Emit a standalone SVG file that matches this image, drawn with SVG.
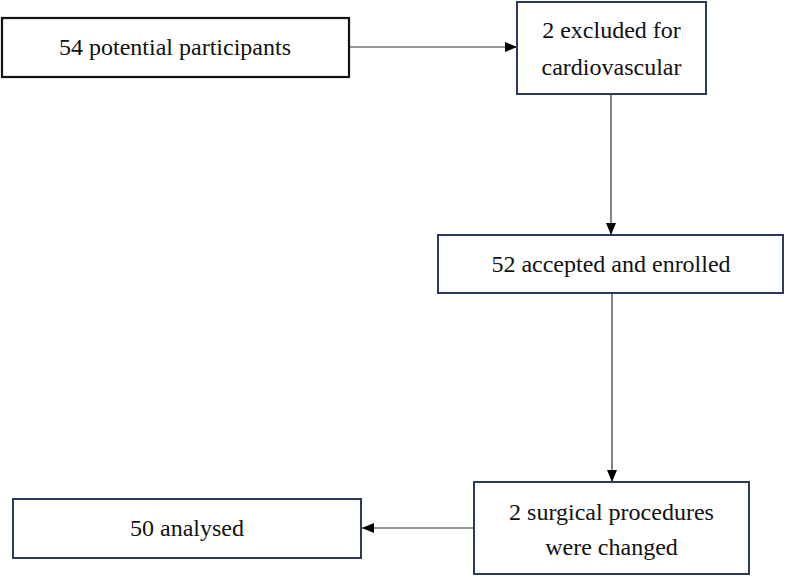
<svg xmlns="http://www.w3.org/2000/svg" width="787" height="577" viewBox="0 0 787 577">
<style>
.box{fill:#fff;stroke:#2b3a5e;stroke-width:2}
.box1{fill:#fff;stroke:#111;stroke-width:2.2}
.t{font-size:24px;fill:#111;text-anchor:middle}
.c{stroke:#333;stroke-width:1.2;fill:none}
</style>
<defs>
<marker id="ah" markerUnits="userSpaceOnUse" markerWidth="12" markerHeight="10" refX="12" refY="5" orient="auto">
<path d="M0,0 L12,5 L0,10 Z" fill="#000"/>
</marker>
</defs>
<rect width="787" height="577" fill="#fff"/>
<g id="connectors">
<line class="c" x1="349" y1="47" x2="517" y2="47" marker-end="url(#ah)"/>
<line class="c" x1="611" y1="94" x2="611" y2="235" marker-end="url(#ah)"/>
<line class="c" x1="612" y1="293" x2="612" y2="482" marker-end="url(#ah)"/>
<line class="c" x1="474" y1="528" x2="362" y2="528" marker-end="url(#ah)"/>
</g>
<g font-family="Liberation Serif, Times New Roman, serif">
<g id="n1">
<rect class="box1" x="2" y="18" width="347" height="59"/>
<text class="t" x="175" y="55">54 potential participants</text>
</g>
<g id="n2">
<rect class="box" x="517" y="2" width="189" height="92"/>
<text class="t" x="611.5" y="38">2 excluded for</text>
<text class="t" x="611.5" y="75">cardiovascular</text>
</g>
<g id="n3">
<rect class="box" x="438" y="235" width="345" height="58"/>
<text class="t" x="611" y="272">52 accepted and enrolled</text>
</g>
<g id="n4">
<rect class="box" x="474" y="482" width="275" height="92"/>
<text class="t" x="611.5" y="520">2 surgical procedures</text>
<text class="t" x="611.5" y="555">were changed</text>
</g>
<g id="n5">
<rect class="box" x="13" y="499" width="348" height="59"/>
<text class="t" x="187" y="536">50 analysed</text>
</g>
</g>
</svg>
